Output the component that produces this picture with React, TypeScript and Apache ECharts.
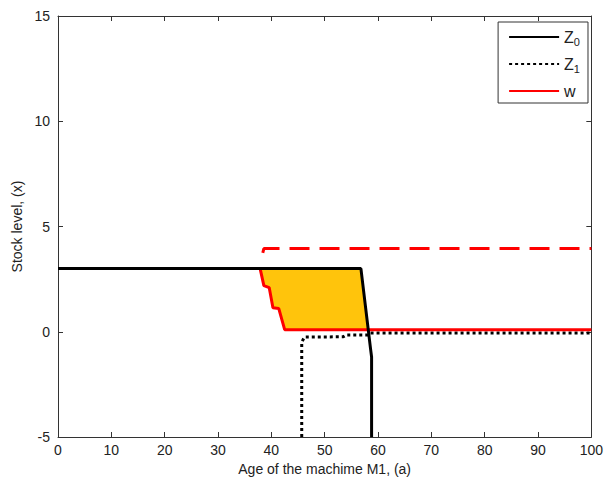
import React, { useEffect, useRef } from "react";
import * as echarts from "echarts";

const xTicks = { min: 0, max: 100, interval: 10 };
const yTicks = { min: -5, max: 15, interval: 5 };

const z0Data: [number, number][] = [
  [0, 3], [56.8, 3], [58.6, -0.8], [58.8, -1.2], [58.8, -5],
];
const z1Data: [number, number][] = [
  [45.7, -5], [45.7, -0.5], [46.2, -0.25], [53.5, -0.24], [54, -0.16],
  [58.2, -0.15], [58.6, -0.06], [100, -0.06],
];
const wData: [number, number][] = [
  [37.9, 3], [38.6, 2.19], [39.6, 2.1], [40.3, 1.14], [41.4, 1.1],
  [42.5, 0.1], [100, 0.1],
];
const wUpperData: [number, number][] = [
  [38.4, 3.75], [38.6, 3.95], [100, 3.95],
];
const fillRegion: [number, number][] = [
  [37.9, 3], [56.8, 3], [58.16, 0.12], [42.5, 0.1], [41.4, 1.1],
  [40.3, 1.14], [39.6, 2.1], [38.6, 2.19],
];

const FONT = "'Liberation Sans', Arial, sans-serif";

export default function App() {
  const ref = useRef<HTMLDivElement>(null);
  useEffect(() => {
    if (!ref.current) return;
    const chart = echarts.init(ref.current, undefined, { renderer: "svg" });
    const axisLine = { show: true, onZero: false, lineStyle: { color: "#333", width: 1 } };
    const tick = { show: true, inside: true, length: 5, lineStyle: { color: "#333" } };
    chart.setOption({
      animation: false,
      backgroundColor: "#fff",
      textStyle: { fontFamily: FONT },
      grid: { left: 58, right: 12, top: 16, bottom: 47 },
      legend: {
        orient: "vertical",
        right: 18,
        top: 22,
        backgroundColor: "#fff",
        borderColor: "#333",
        borderWidth: 1,
        borderRadius: 0,
        padding: [7, 8, 4, 10],
        itemGap: 9,
        itemWidth: 50,
        itemHeight: 14,
        itemStyle: { opacity: 0 },
        data: ["Z0", "Z1", "w"],
        formatter: (name: string) =>
          name === "w" ? "{b|w}" : `{b|Z}{s|${name.slice(1)}}`,
        textStyle: {
          color: "#222",
          fontFamily: FONT,
          rich: {
            b: { fontSize: 16, fontFamily: FONT, color: "#222", height: 20 },
            s: { fontSize: 11, fontFamily: FONT, color: "#222", padding: [9, 0, 0, 0], height: 20 },
          },
        },
      },
      xAxis: [
        {
          type: "value", ...xTicks, position: "bottom",
          name: "Age of the machime M1, (a)", nameLocation: "middle", nameGap: 23,
          nameTextStyle: { fontSize: 14, color: "#222", fontFamily: FONT },
          axisLine, axisTick: tick, splitLine: { show: false },
          axisLabel: { fontSize: 14, color: "#222", margin: 6, fontFamily: FONT },
        },
        {
          type: "value", ...xTicks, position: "top",
          axisLine, axisTick: tick, splitLine: { show: false }, axisLabel: { show: false },
        },
      ],
      yAxis: [
        {
          type: "value", ...yTicks, position: "left",
          name: "Stock level, (x)", nameLocation: "middle", nameGap: 33,
          nameTextStyle: { fontSize: 14, color: "#222", fontFamily: FONT },
          axisLine, axisTick: tick, splitLine: { show: false },
          axisLabel: { fontSize: 14, color: "#222", margin: 8, fontFamily: FONT },
        },
        {
          type: "value", ...yTicks, position: "right",
          axisLine, axisTick: tick, splitLine: { show: false }, axisLabel: { show: false },
        },
      ],
      series: [
        {
          type: "custom",
          name: "fill",
          z: 1,
          silent: true,
          data: [0],
          renderItem: (_params: any, api: any) => ({
            type: "polygon",
            shape: { points: fillRegion.map((p) => api.coord(p)) },
            style: { fill: "#FFC40C", stroke: "none" },
          }),
        },
        {
          type: "line", name: "wUpper", data: wUpperData, symbol: "none", z: 2,
          lineStyle: { color: "#FF0000", width: 3, type: [20, 10] },
        },
        {
          type: "line", name: "Z0", data: z0Data, symbol: "none", z: 4,
          lineStyle: { color: "#000", width: 3 }, itemStyle: { color: "#000" },
        },
        {
          type: "line", name: "Z1", data: z1Data, symbol: "none", z: 3,
          lineStyle: { color: "#000", width: 3, type: [3, 3] }, itemStyle: { color: "#000" },
        },
        {
          type: "line", name: "w", data: wData, symbol: "none", z: 3,
          lineStyle: { color: "#FF0000", width: 3 }, itemStyle: { color: "#FF0000" },
        },
      ],
    });
    return () => chart.dispose();
  }, []);
  return (
    <div
      ref={ref}
      style={{ position: "absolute", left: 0, top: 0, width: 606, height: 484 }}
    />
  );
}
